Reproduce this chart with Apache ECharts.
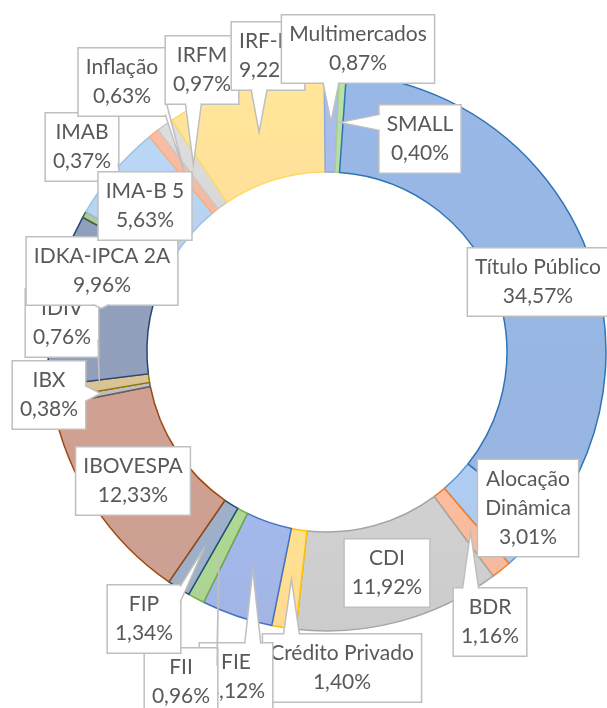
<!DOCTYPE html>
<html>
<head>
<meta charset="utf-8">
<script src="https://cdn.jsdelivr.net/npm/echarts@6/dist/echarts.min.js"></script>
<style>
  html, body { margin: 0; padding: 0; background: #fff; }
  #chart { width: 607px; height: 708px; }
</style>
</head>
<body>
<div id="chart"></div>
<script>
// categories and shares (%), in the sheet's order
var categories = ['Alocação\nDinâmica', 'BDR', 'CDI', 'Crédito Privado', 'FIE', 'FII', 'FIP',
  'IBOVESPA', 'IBX', 'IDIV', 'IDKA-IPCA 2A', 'IMAB', 'IMA-B 5', 'Inflação', 'IRFM', 'IRF-M',
  'Multimercados', 'SMALL', 'Título Público']
var shares = [3.01, 1.16, 11.92, 1.40, 4.12, 0.96, 1.34,
  12.33, 0.38, 0.76, 9.96, 0.37, 5.63, 0.63, 0.97, 9.22,
  0.87, 0.40, 34.57]

// slice fills and outlines
var fills = ['#a9c6ea', '#f5b597', '#c9c9c9', '#ffd98c', '#9db1e3', '#a9d18e', '#98aac4',
  '#c99a8d', '#b8b8b8', '#d4be8f', '#8c99b8', '#a9c39b', '#b4cfee', '#f4b59d', '#d6d6d6', '#ffdf94',
  '#a4b8e8', '#b4daa0', '#93b1df']
var borders = ['#5b9bd5', '#ed7d31', '#a5a5a5', '#ffc000', '#4472c4', '#70ad47', '#1f4e79',
  '#9e480e', '#636363', '#997300', '#264478', '#43682b', '#9dc3e6', '#f4b183', '#c9c9c9', '#ffd966',
  '#8faadc', '#a9d18e', '#2e75b6']

// callout box centres
var labelPos = [[528, 508], [490, 622], [387, 573], [342, 668], [236, 677], [181, 682], [144, 619],
  [133, 481], [49, 395], [62, 323], [102, 271], [82, 147], [145, 206], [122, 82], [202, 70], [268, 56],
  [358, 49], [420, 139], [538, 282]]

var noPointer = ['CDI', 'Título Público']
var pointerR = 230
var font = {family: 'Lato', size: 21, lineHeight: 29, pad: [5, 7, 4, 7]}

function pct(v) {
  return v.toFixed(2).replace('.', ',') + '%'
}

var data = []
for (let i = 0; i < categories.length; i++) {
  data.push({
    name: categories[i],
    value: shares[i],
    itemStyle: {
      borderColor: borders[i],
      color: {
        type: 'linear', x: 0, y: 0, x2: 0, y2: 1,
        colorStops: [
          {offset: 0, color: echarts.color.lift(fills[i], -0.04)},
          {offset: 1, color: echarts.color.lift(fills[i], 0.06)}
        ]
      }
    }
  })
}

var myChart = echarts.init(document.getElementById('chart'), null, {renderer: 'canvas'})
myChart.setOption({
  animation: false,
  series: [{
    type: 'pie',
    z: 2,
    center: [327, 352],
    radius: [180, 279],
    startAngle: -38.45,
    clockwise: true,
    itemStyle: {borderWidth: 1.5},
    label: {show: false},
    labelLine: {show: false},
    data: data
  }]
})

// measure a callout box
var ctx = document.createElement('canvas').getContext('2d')
ctx.font = font.size + 'px ' + font.family
function boxSize(text) {
  var lines = text.split('\n')
  var w = 0
  for (let k = 0; k < lines.length; k++) w = Math.max(w, ctx.measureText(lines[k]).width)
  return [w + font.pad[1] + font.pad[3], lines.length * font.lineHeight + font.pad[0] + font.pad[2]]
}

// callouts: box, then its wedge pointing into the middle of the slice;
// later callouts sit above earlier ones, as in the sheet
function buildCallouts() {
  var sData = myChart.getModel().getSeriesByIndex(0).getData()
  var els = []
  var z = 10
  for (let i = 0; i < categories.length; i++) {
    var text = categories[i] + '\n' + pct(shares[i])
    var p = labelPos[i]
    els.push({
      type: 'text', z: z++, x: p[0], y: p[1],
      style: {
        text: text,
        fontFamily: font.family,
        fontSize: font.size,
        lineHeight: font.lineHeight,
        fill: '#595959',
        align: 'center',
        verticalAlign: 'middle',
        backgroundColor: '#fff',
        borderColor: '#bfbfbf',
        borderWidth: 1.5,
        padding: font.pad
      }
    })
    if (noPointer.indexOf(categories[i]) >= 0) continue
    var lay = sData.getItemLayout(i)
    var mid = (lay.startAngle + lay.endAngle) / 2
    var tx = lay.cx + Math.cos(mid) * pointerR
    var ty = lay.cy + Math.sin(mid) * pointerR
    var sz = boxSize(text)
    var x0 = p[0] - sz[0] / 2, x1 = p[0] + sz[0] / 2
    var y0 = p[1] - sz[1] / 2, y1 = p[1] + sz[1] / 2
    if (tx > x0 && tx < x1 && ty > y0 && ty < y1) continue
    var bx = Math.min(Math.max(tx, x0), x1)
    var by = Math.min(Math.max(ty, y0), y1)
    var w = 8
    var a, b, ia, ib
    if (bx === x0 || bx === x1) {
      var yy = Math.min(Math.max(by, y0 + w + 1), y1 - w - 1)
      var ix = bx === x0 ? 2 : -2
      a = [bx, yy - w]; b = [bx, yy + w]
      ia = [bx + ix, yy - w]; ib = [bx + ix, yy + w]
    } else {
      var xx = Math.min(Math.max(bx, x0 + w + 1), x1 - w - 1)
      var iy = by === y0 ? 2 : -2
      a = [xx - w, by]; b = [xx + w, by]
      ia = [xx - w, by + iy]; ib = [xx + w, by + iy]
    }
    els.push({
      type: 'polygon', z: z++,
      shape: {points: [ia, a, [tx, ty], b, ib]},
      style: {fill: '#fff', stroke: null}
    })
    els.push({
      type: 'polyline', z: z++,
      shape: {points: [a, [tx, ty], b]},
      style: {stroke: '#bfbfbf', lineWidth: 1.5, fill: null}
    })
  }
  myChart.setOption({graphic: {elements: els}})
}
buildCallouts()
</script>
</body>
</html>
